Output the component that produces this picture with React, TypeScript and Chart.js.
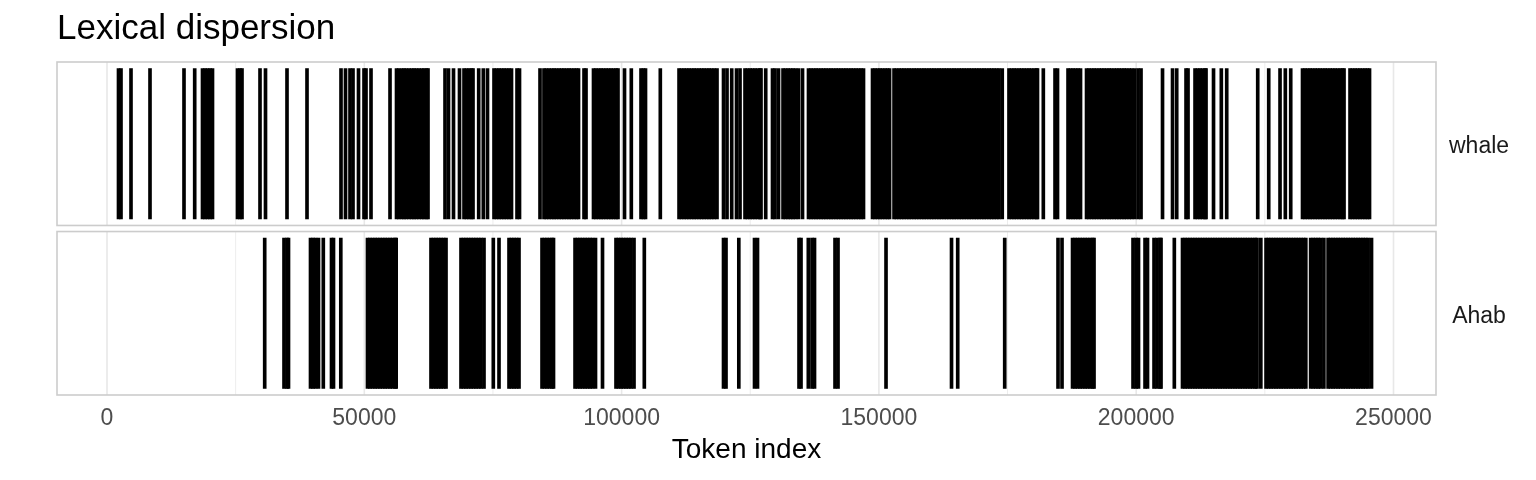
import React, { useEffect, useRef } from "react";
import { Chart, registerables } from "chart.js";

Chart.register(...registerables);

const TITLE = "Lexical dispersion";
const X_TITLE = "Token index";
const FACETS = ["whale", "Ahab"];
const X_TICKS = [0, 50000, 100000, 150000, 200000, 250000];
const X_MINOR = [25000, 75000, 125000, 175000, 225000];

const WHALE = [
  2235, 2721, 4664, 8356, 14963, 17043,
  18559, 19044, 19530, 20016, 20502,
  25360, 25846, 26235,
  29732, 30801, 34979, 38866,
  45473, 46348, 47222, 47805, 48874, 49943, 50331, 51303, 54995,
  56260, 56690, 57240, 57710, 58150, 58690, 59210, 59660, 60120, 60630, 61170, 61600, 62080, 62380,
  65684, 66364, 67335, 68501,
  69376, 69862, 70347, 70833, 71125,
  72232, 73126, 73942,
  75206, 75692, 76177, 76663, 77149, 77635, 78121, 78606,
  79675, 80161,
  84145,
  84920, 85380, 85890, 86410, 86870, 87330, 87850, 88340, 88800, 89310, 89790, 90250, 90760, 91240, 91630,
  92696, 93085,
  94540, 95010, 95530, 96010, 96470, 96980, 97470, 97940, 98440, 98910, 99300,
  100566, 101887,
  103772, 104258, 104647,
  107523,
  111160, 111630, 112140, 112620, 113090, 113600, 114080, 114550, 115060, 115540, 116010, 116520, 116990, 117470, 117980, 118540,
  119804, 120485, 121398, 122331, 123011,
  123980, 124460, 124970, 125440, 125920, 126420, 126890, 127090,
  128006,
  129326, 129812, 130492,
  131370, 131850, 132350, 132830, 133300, 133810, 134380,
  135157,
  136320, 136800, 137300, 137780, 138250, 138760, 139240, 139710, 140220, 140690, 141170, 141680,
  142150, 142630, 143130, 143600, 144100, 144590, 145060, 145550, 146050, 146520, 147010,
  148760, 149240, 149740, 150220, 150690, 151200, 151680, 152070,
  152940, 153410, 153920, 154400, 154870, 155380, 155850, 156330, 156840, 157310, 157790, 158300,
  158770, 159250, 159750, 160230, 160700, 161210, 161690, 162160, 162670, 163140, 163620, 164130,
  164600, 165080, 165590, 166060, 166540, 167040, 167520, 167990, 168500, 168980, 169450, 169960,
  170430, 170910, 171420, 171890, 172370, 172870, 173350, 173970,
  175280, 175790, 176270, 176740, 177250, 177720, 178200, 178710, 179180, 179660, 180160, 180640, 180820,
  181951,
  184225, 184711,
  186751, 187237, 187723, 188209, 188694, 189180,
  190350, 190820, 191330, 191810, 192290, 192800, 193280, 193750, 194260, 194740,
  195210, 195720, 196200, 196670, 197180, 197660, 198130, 198640, 199120, 199675,
  200354, 200937,
  205115, 207059, 207875,
  209682, 210071,
  211431, 211917, 212403, 212889, 213374, 213569,
  215026, 216542, 217591,
  223616, 225753, 227949, 228979, 230029,
  232320, 232800, 233300, 233790, 234260, 234770, 235250, 235720, 236230, 236710,
  237180, 237690, 238170, 238640, 239150, 239630, 240100, 240386,
  241550, 242030, 242530, 243010, 243480, 243990, 244470, 244940, 245342,
];

const AHAB = [
  30646,
  34396, 34979, 35271,
  39546, 40032, 40518, 41101,
  42034,
  43627, 44016,
  45434,
  50620, 51100, 51600, 52090, 52570, 53060, 53560, 54030, 54520, 55010, 55480, 55980, 56190,
  62960, 63450, 63940, 64420, 64900, 65400, 65880,
  68790, 69280, 69760, 70250, 70740, 71220, 71700, 72200, 72680, 73262,
  75070, 76177,
  78121, 78606, 79092, 79578, 80063,
  84534, 85020, 85505, 85991, 86477, 86769,
  90950, 91430, 91920, 92400, 92890, 93380, 93860, 94350, 94931,
  96290,
  98910, 99400, 99890, 100370, 100860, 101350, 101830, 102412,
  104414,
  119804, 120290,
  122778,
  125829, 126412,
  134476, 134865,
  136284,
  137003, 137488,
  141472, 142055,
  151383,
  164112, 165317,
  174450,
  184808, 185585,
  187630, 188110, 188600, 189090, 189570, 190060, 190540, 191030, 191520, 191804,
  199383, 199966, 200452,
  201715, 202200,
  203464, 204047, 204629, 204824,
  207409,
  209000, 209490, 209970, 210460, 210950, 211430, 211920, 212410, 212890, 213380, 213860,
  214350, 214840, 215320, 215810, 216300, 216780, 217270, 217750, 218240, 218730, 219210,
  219700, 220190, 220670, 221160, 221640, 222130, 222620, 223100, 223480,
  224218,
  225230, 225720, 226200, 226690, 227170, 227660, 228150, 228630, 229120, 229600, 230090,
  230580, 231060, 231550, 232030, 232520, 232960,
  233900, 234390, 234870, 235360, 235840, 236470,
  237290, 237780, 238260, 238750, 239240, 239720, 240210, 240690, 241180, 241670, 242150,
  242640, 243120, 243610, 244100, 244580, 245070, 245730,
];

const X_MIN = -9716;
const X_MAX = 258259;
const GAP = 0.037;
const BAR_LO = 0.04;
const BAR_HI = 0.96;
// panel ranges on the y scale (top panel first)
const PANELS: [number, number][] = [
  [1 + GAP, 2 + GAP],
  [0, 1],
];

const FONT = "'Liberation Sans', Arial, Helvetica, sans-serif";

const panelPlugin = {
  id: "panels",
  beforeDatasetsDraw(chart: any) {
    const { ctx, scales } = chart;
    const x = scales.x;
    const y = scales.y;
    ctx.save();
    PANELS.forEach(([lo, hi]) => {
      const top = y.getPixelForValue(hi);
      const bottom = y.getPixelForValue(lo);
      ctx.strokeStyle = "#ededed";
      ctx.lineWidth = 1;
      X_MINOR.forEach((v) => {
        const px = x.getPixelForValue(v);
        ctx.beginPath();
        ctx.moveTo(px, top);
        ctx.lineTo(px, bottom);
        ctx.stroke();
      });
      ctx.strokeStyle = "#e8e8e8";
      ctx.lineWidth = 1.6;
      X_TICKS.forEach((v) => {
        const px = x.getPixelForValue(v);
        ctx.beginPath();
        ctx.moveTo(px, top);
        ctx.lineTo(px, bottom);
        ctx.stroke();
      });
    });
    ctx.restore();
  },
  afterDatasetsDraw(chart: any) {
    const { ctx, chartArea, scales } = chart;
    const y = scales.y;
    ctx.save();
    ctx.strokeStyle = "#cccccc";
    ctx.lineWidth = 1.6;
    PANELS.forEach(([lo, hi]) => {
      const top = y.getPixelForValue(hi);
      const bottom = y.getPixelForValue(lo);
      ctx.strokeRect(chartArea.left, top, chartArea.right - chartArea.left, bottom - top);
    });
    ctx.restore();
  },
};

export default function App() {
  const ref = useRef<HTMLCanvasElement | null>(null);

  useEffect(() => {
    if (!ref.current) return;
    Chart.defaults.font.family = FONT;
    const series = [WHALE, AHAB];
    const datasets = series.map((vals, i) => {
      const [lo, hi] = PANELS[i];
      const span = hi - lo;
      return {
        label: FACETS[i],
        data: vals.map((v) => ({ x: v, y: [lo + BAR_LO * span, lo + BAR_HI * span] })),
        backgroundColor: "#000000",
        borderWidth: 0,
        barThickness: 3,
        grouped: false,
      };
    });

    const chart = new Chart(ref.current, {
      type: "bar",
      data: { datasets: datasets as any },
      plugins: [panelPlugin],
      options: {
        animation: false,
        responsive: true,
        maintainAspectRatio: false,
        devicePixelRatio: 1,
        layout: { padding: { left: 57, right: 0, top: 0, bottom: 0 } },
        plugins: {
          legend: { display: false },
          tooltip: { enabled: false },
          title: {
            display: true,
            text: TITLE,
            align: "start",
            color: "#000000",
            font: { family: FONT, size: 35, weight: "normal", lineHeight: 1.2 },
            padding: { top: 8, bottom: 12 },
          },
        },
        scales: {
          x: {
            type: "linear",
            position: "bottom",
            offset: false,
            min: X_MIN,
            max: X_MAX,
            grid: { display: false, drawTicks: false, offset: false },
            border: { display: false },
            afterBuildTicks: (s: any) => {
              s.ticks = X_TICKS.map((v) => ({ value: v }));
            },
            afterFit: (s: any) => {
              s.height = 85;
            },
            ticks: {
              autoSkip: false,
              maxRotation: 0,
              padding: 10,
              color: "#4d4d4d",
              font: { family: FONT, size: 23, lineHeight: 1.2 },
              callback: (v: any) => String(v),
            },
            title: {
              display: true,
              text: X_TITLE,
              color: "#000000",
              font: { family: FONT, size: 28, lineHeight: 1.2 },
              padding: { top: 0, bottom: 13 },
            },
          },
          y: {
            type: "linear",
            position: "right",
            min: 0,
            max: 2 + GAP,
            grid: { display: false, drawTicks: false },
            border: { display: false },
            afterBuildTicks: (s: any) => {
              s.ticks = PANELS.map(([lo, hi]) => ({ value: (lo + hi) / 2 })).sort((a, b) => a.value - b.value);
            },
            afterFit: (s: any) => {
              s.width = 100;
            },
            ticks: {
              padding: 13,
              crossAlign: "center",
              labelOffset: 3,
              color: "#1a1a1a",
              font: { family: FONT, size: 23, lineHeight: 1.2 },
              callback: (v: any) => {
                const idx = PANELS.findIndex(([lo, hi]) => Math.abs((lo + hi) / 2 - v) < 1e-6);
                return idx >= 0 ? FACETS[idx] : "";
              },
            },
          },
        },
      } as any,
    });
    return () => chart.destroy();
  }, []);

  return (
    <div style={{ position: "fixed", left: 0, top: 0, width: 1536, height: 480, background: "#ffffff" }}>
      <canvas ref={ref} />
    </div>
  );
}
